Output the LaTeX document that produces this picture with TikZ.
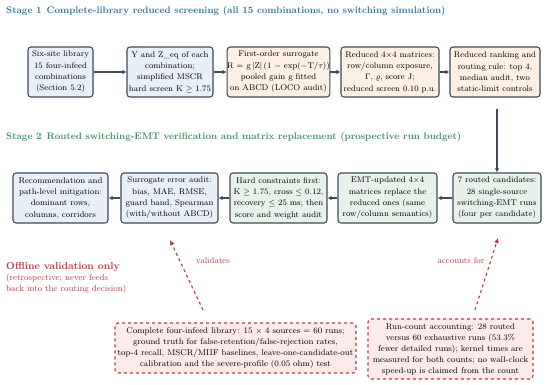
\documentclass[tikz,border=0pt]{standalone}
\usetikzlibrary{arrows.meta}
\definecolor{edge}{HTML}{3D4B5C}
\definecolor{blfill}{HTML}{E9EFF6}
\definecolor{orfill}{HTML}{FBF0E3}
\definecolor{grfill}{HTML}{E8F2EA}
\definecolor{tblue}{HTML}{2F73A0}
\definecolor{tgreen}{HTML}{3B9462}
\definecolor{rd}{HTML}{C0393B}
\definecolor{pkfill}{HTML}{FBEAEA}
\begin{document}
\begin{tikzpicture}[x=1pt,y=-1pt,
  box/.style={draw=edge, line width=1.1pt, rounded corners=3pt, align=center,
    font=\fontsize{8.3}{11.3}\selectfont, inner sep=0pt, minimum height=50pt},
  bl/.style={box, fill=blfill},
  orb/.style={box, fill=orfill},
  grb/.style={box, fill=grfill},
  dbox/.style={draw=rd, fill=pkfill, line width=1.1pt, dashed, rounded corners=3pt,
    align=center, font=\fontsize{8.4}{11}\selectfont, inner sep=0pt},
  conn/.style={draw=edge, line width=1.3pt, -{Latex[length=4pt,width=4.5pt]}},
  rconn/.style={draw=rd, line width=1.1pt, dashed, -{Latex[length=5pt,width=5pt]}},
  ttl/.style={anchor=west, inner sep=0pt, font=\fontsize{9.6}{11}\selectfont\bfseries},
  rlab/.style={text=rd, inner sep=0pt, font=\fontsize{8.6}{10}\selectfont}
]
\useasboundingbox (0,0) rectangle (550,384);

\node[ttl, text=tblue] (t1) at (6,11) {Stage 1\hspace{0.5em}Complete-library reduced screening (all 15 combinations, no switching simulation)};
\node[ttl, text=tgreen] (t2) at (6,137) {Stage 2\hspace{0.5em}Routed switching-EMT verification and matrix replacement (prospective run budget)};

% Stage 1
\node[bl, minimum width=65pt] (b1) at (60.5,72) {Six-site library\\15 four-infeed\\combinations\\(Section 5.2)};
\node[bl, minimum width=86pt] (b2) at (170,72) {Y and Z\_eq of each\\combination;\\simplified MSCR\\hard screen K $\geq$ 1.75};
\node[orb, minimum width=101pt] (b3) at (278.5,72) {First-order surrogate\\R = g\,$|$Z$|$\,(1 $-$ exp($-$T/$\tau$))\\pooled gain g fitted\\on ABCD (LOCO audit)};
\node[orb, minimum width=98pt] (b4) at (390,72) {Reduced 4$\times$4 matrices:\\row/column exposure,\\$\Gamma$, $\varrho$, score J;\\reduced screen 0.10 p.u.};
\node[orb, minimum width=90pt] (b5) at (495,72) {Reduced ranking and\\routing rule: top 4,\\median audit, two\\static-limit controls};

% Stage 2
\node[grb, minimum width=88pt] (r5) at (497,198) {7 routed candidates:\\28 single-source\\switching-EMT runs\\(four per candidate)};
\node[grb, minimum width=99pt] (r4) at (387.5,198) {EMT-updated 4$\times$4\\matrices replace the\\reduced ones (same\\row/column semantics)};
\node[grb, minimum width=97pt] (r3) at (278.5,198) {Hard constraints first:\\K $\geq$ 1.75, cross $\leq$ 0.12,\\recovery $\leq$ 25 ms; then\\score and weight audit};
\node[bl, minimum width=97pt] (r2) at (169.5,198) {Surrogate error audit:\\bias, MAE, RMSE,\\guard band, Spearman\\(with/without ABCD)};
\node[bl, minimum width=95pt] (r1) at (60.5,198) {Recommendation and\\path-level mitigation:\\dominant rows,\\columns, corridors};

\draw[conn] (b1) -- (b2);
\draw[conn] (b2) -- (b3);
\draw[conn] (b3) -- (b4);
\draw[conn] (b4) -- (b5);
\draw[conn, shorten <=11pt] (b5.south -| r5.north) -- (r5.north);
\draw[conn] (r5) -- (r4);
\draw[conn] (r4) -- (r3);
\draw[conn] (r3) -- (r2);
\draw[conn] (r2) -- (r1);

% Offline validation
\node[anchor=west, inner sep=0pt, text=rd, font=\fontsize{10.2}{12}\selectfont\bfseries] (ov) at (6,267) {Offline validation only};
\node[anchor=north west, inner sep=0pt, text=rd, align=left, font=\fontsize{8.7}{11}\selectfont] (ovt) at (6,274) {(retrospective; never feeds\\back into the routing decision)};

\node[dbox, minimum width=241pt, minimum height=50pt] (d1) at (235.5,348) {Complete four-infeed library: 15 $\times$ 4 sources = 60 runs;\\ground truth for false-retention/false-rejection rates,\\top-4 recall, MSCR/MIIF baselines, leave-one-candidate-out\\calibration and the severe-profile (0.05 ohm) test};
\node[dbox, minimum width=165pt, minimum height=60pt] (d2) at (450.5,349) {Run-count accounting: 28 routed\\versus 60 exhaustive runs (53.3\%\\fewer detailed runs); kernel times are\\measured for both counts; no wall-clock\\speed-up is claimed from the count};

\coordinate (va) at (203,310);
\coordinate (vb) at (170,240);
\coordinate (aa) at (475,310);
\coordinate (ab) at (498,238);
\draw[rconn] (va) -- (vb);
\draw[rconn] (aa) -- (ab);
\node[rlab] (lv) at (213,261) {validates};
\node[rlab] (la) at (461,261) {accounts for};
\end{tikzpicture}
\end{document}
